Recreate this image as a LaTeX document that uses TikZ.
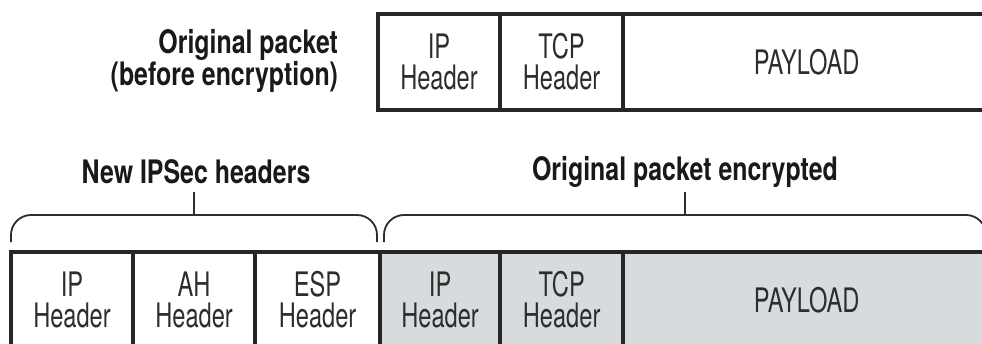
\documentclass[tikz,border=0pt]{standalone}
\usepackage{fontspec}
\setmainfont{TeX Gyre Heros}
\newfontfamily\boxfont{TeX Gyre Heros}[FakeStretch=0.7]
\newfontfamily\capfont{TeX Gyre Heros}[FakeStretch=0.77]
\usetikzlibrary{positioning}
\definecolor{encgray}{RGB}{216,219,222}
\definecolor{inkgray}{RGB}{45,45,45}

\tikzset{
  field/.style={draw=black!85, line width=2.4pt, outer sep=0pt, inner sep=0pt,
    minimum height=2.4cm, align=center, text=inkgray,
    font=\boxfont\fontsize{24}{22}\selectfont},
  enc/.style={field, fill=encgray},
  caption/.style={font=\capfont\bfseries\fontsize{23}{20}\selectfont, text=black!90},
  brace/.style={draw=inkgray, line width=1.3pt, rounded corners=0.5cm}
}

\begin{document}
\begin{tikzpicture}[x=0.025cm, y=-0.025cm]
\useasboundingbox (0,0) rectangle (982,343);
\clip (0,0) rectangle (982,343);
% original packet
\node[field, minimum width=3.05cm, anchor=north west] (ip) at (378,14) {IP\\Header};
\node[field, minimum width=3.075cm, right=0pt of ip] (tcp) {TCP\\Header};
\node[field, minimum width=9.175cm, right=0pt of tcp] (pay) {PAYLOAD};
\node[caption, align=right, anchor=east] (orig) at (343,61) {Original packet\\(before encryption)};
% packet with IPSec headers
\node[field, minimum width=3.05cm, anchor=north west] (newip) at (11,252) {IP\\Header};
\node[field, minimum width=3.05cm, right=0pt of newip] (ah) {AH\\Header};
\node[field, minimum width=3.125cm, right=0pt of ah] (esp) {ESP\\Header};
\node[enc, minimum width=3cm, right=0pt of esp] (encip) {IP\\Header};
\node[enc, minimum width=3.075cm, right=0pt of encip] (enctcp) {TCP\\Header};
\node[enc, minimum width=9.175cm, right=0pt of enctcp] (encpay) {PAYLOAD};
% braces
\coordinate (hdrtip) at (194,215);
\coordinate (enctip) at (685,215);
\draw[brace] (11,242) -- (11,215) -- (377,215) -- (377,242);
\draw[brace] (384,242) -- (384,215) -- (986,215) -- (986,242);
\node[caption] (newhdr) at (196,172) {New IPSec headers};
\node[caption] (encr) at (685,172) {Original packet encrypted};
\draw[brace] (hdrtip) -- ++(0,-23);
\draw[brace] (enctip) -- ++(0,-23);
\end{tikzpicture}
\end{document}
